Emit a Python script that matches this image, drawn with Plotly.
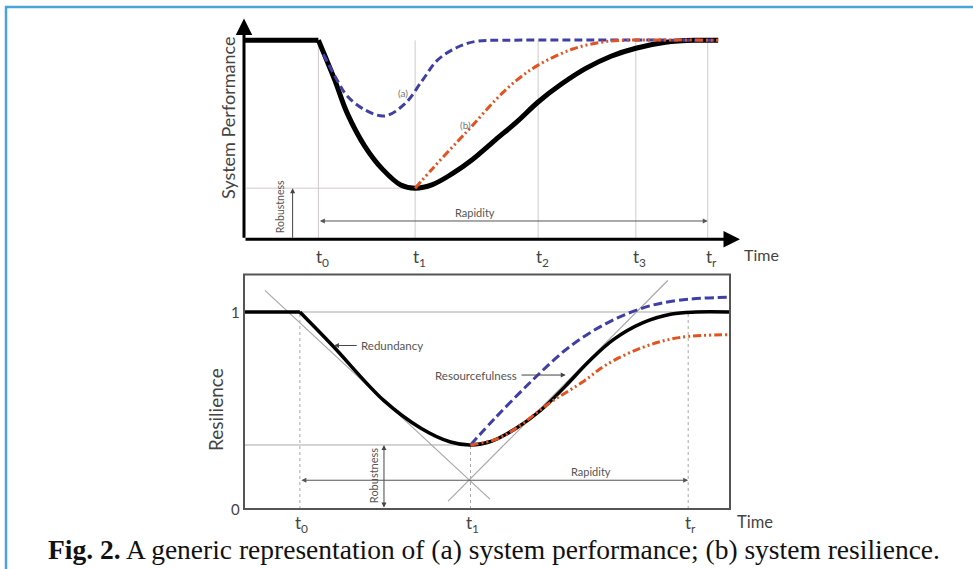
import plotly.graph_objects as go

# ---------------- data: top panel (system performance) ----------------
top_t = [1.5, 3.45, 5.93, 7.9, 9.35]
top_t_labels = ["t<sub>0</sub>", "t<sub>1</sub>", "t<sub>2</sub>", "t<sub>3</sub>", "t<sub>r</sub>"]
perf_black_x = [0, 1.5, 1.83, 2.08, 2.44, 2.8, 3.16, 3.45, 3.8, 4.2, 4.6, 5.07, 5.5, 5.93, 6.4, 6.9, 7.4, 7.9, 8.5, 9.1, 9.56]
perf_black_y = [1, 1, 0.8, 0.634, 0.466, 0.35, 0.273, 0.257, 0.275, 0.33, 0.4, 0.5, 0.59, 0.69, 0.78, 0.86, 0.92, 0.96, 0.99, 1.0, 1.0]
perf_blue_x = [1.6, 1.9, 2.08, 2.44, 2.84, 3.24, 3.6, 3.9, 4.3, 4.68, 5.2, 9.56]
perf_blue_y = [0.93, 0.79, 0.72, 0.65, 0.62, 0.68, 0.8, 0.9, 0.965, 0.995, 1.0, 1.0]
perf_red_x = [3.45, 3.8, 4.3, 4.6, 5.07, 5.5, 5.93, 6.61, 7.2, 7.7, 9.56]
perf_red_y = [0.257, 0.355, 0.49, 0.57, 0.70, 0.80, 0.875, 0.955, 0.99, 1.0, 1.0]
perf_min = 0.257
perf_rapidity_y = 0.092
perf_robust_x = 0.98

# ---------------- data: bottom panel (resilience) ----------------
bot_t = [1.15, 4.66, 9.14]
bot_t_labels = ["t<sub>0</sub>", "t<sub>1</sub>", "t<sub>r</sub>"]
res_black_x = [0, 1.15, 1.82, 2.88, 3.64, 4.25, 4.66, 5.1, 5.6, 6.1, 6.6, 7.1, 7.6, 8.2, 8.8, 9.3, 10]
res_black_y = [1, 1, 0.83, 0.55, 0.41, 0.34, 0.325, 0.345, 0.41, 0.5, 0.62, 0.75, 0.86, 0.945, 0.99, 1.0, 1.0]
res_blue_x = [4.66, 5.16, 5.92, 6.68, 7.44, 8.2, 8.95, 10]
res_blue_y = [0.325, 0.46, 0.65, 0.82, 0.94, 1.02, 1.06, 1.075]
res_red_x = [4.66, 5.2, 5.6, 6.3, 7.0, 7.44, 8.2, 8.95, 10]
res_red_y = [0.325, 0.355, 0.41, 0.54, 0.65, 0.73, 0.82, 0.87, 0.885]
tan1_x = [0.43, 5.06]
tan1_y = [1.11, 0.05]
tan2_x = [4.2, 8.72]
tan2_y = [0.04, 1.16]
res_min = 0.325
res_rapidity_y = 0.146
res_robust_x = 2.88
res_box_top = 1.19

W, H = 973, 569
BLUE = "#3f3fa6"
RED = "#e4521f"
GRAY = "#a8a8a8"
TXT = "#555555"
FONT = "Lato, 'Open Sans', sans-serif"

# pixel mapping used only for layout (domains)
tx0, tsx = 244, 49.6   # top: px = tx0 + tsx*x
ty0, tsy = 239.3, 199  # top: py = ty0 - tsy*y
bx0, bsx = 244, 48.6
by0, bsy = 509, 197

t_xr = [-0.6, 10.7]; t_yr = [-0.12, 1.13]
b_xr = [-0.6, 10.7]; b_yr = [-0.12, 1.2]

def xdom(x0, sx, r):
    return [(x0 + sx * r[0]) / W, (x0 + sx * r[1]) / W]

def ydom(y0, sy, r):
    return [1 - (y0 - sy * r[0]) / H, 1 - (y0 - sy * r[1]) / H]

fig = go.Figure()

# ---- top curves ----
fig.add_trace(go.Scatter(x=perf_black_x[:2], y=perf_black_y[:2], mode="lines",
                         line=dict(color="black", width=5), xaxis="x", yaxis="y"))
fig.add_trace(go.Scatter(x=perf_black_x[1:], y=perf_black_y[1:], mode="lines",
                         line=dict(color="black", width=5, shape="spline"), xaxis="x", yaxis="y"))
fig.add_trace(go.Scatter(x=perf_blue_x, y=perf_blue_y, mode="lines",
                         line=dict(color=BLUE, width=3, dash="8px,4px", shape="spline"), xaxis="x", yaxis="y"))
fig.add_trace(go.Scatter(x=perf_red_x, y=perf_red_y, mode="lines",
                         line=dict(color=RED, width=3, dash="8px,3px,2px,3px,2px,3px", shape="spline"), xaxis="x", yaxis="y"))

# ---- bottom curves ----
fig.add_trace(go.Scatter(x=tan1_x, y=tan1_y, mode="lines", line=dict(color=GRAY, width=1.2), xaxis="x2", yaxis="y2"))
fig.add_trace(go.Scatter(x=tan2_x, y=tan2_y, mode="lines", line=dict(color=GRAY, width=1.2), xaxis="x2", yaxis="y2"))
fig.add_trace(go.Scatter(x=res_black_x[:2], y=res_black_y[:2], mode="lines",
                         line=dict(color="black", width=3.5), xaxis="x2", yaxis="y2"))
fig.add_trace(go.Scatter(x=res_black_x[1:], y=res_black_y[1:], mode="lines",
                         line=dict(color="black", width=3.5, shape="spline"), xaxis="x2", yaxis="y2"))
fig.add_trace(go.Scatter(x=res_blue_x, y=res_blue_y, mode="lines",
                         line=dict(color=BLUE, width=3, dash="9px,4px", shape="spline"), xaxis="x2", yaxis="y2"))
fig.add_trace(go.Scatter(x=res_red_x, y=res_red_y, mode="lines",
                         line=dict(color=RED, width=3, dash="8px,3px,2px,3px,2px,3px", shape="spline"), xaxis="x2", yaxis="y2"))

shapes = []
# top reference lines
for t in top_t:
    shapes.append(dict(type="line", xref="x", yref="y", x0=t, x1=t, y0=0, y1=1,
                       line=dict(color="#d2c9c9", width=1), layer="below"))
shapes.append(dict(type="line", xref="x", yref="y", x0=0.05, x1=top_t[1], y0=perf_min, y1=perf_min,
                   line=dict(color="#d2c9c9", width=1), layer="below"))
# bottom box and reference lines
shapes.append(dict(type="rect", xref="x2", yref="y2", x0=0, x1=10, y0=0, y1=res_box_top,
                   line=dict(color="#555555", width=2)))
shapes.append(dict(type="line", xref="x2", yref="y2", x0=0, x1=10, y0=1, y1=1,
                   line=dict(color=GRAY, width=1), layer="below"))
shapes.append(dict(type="line", xref="x2", yref="y2", x0=0, x1=bot_t[1], y0=res_min, y1=res_min,
                   line=dict(color=GRAY, width=1), layer="below"))
shapes.append(dict(type="line", xref="x2", yref="y2", x0=bot_t[0], x1=bot_t[0], y0=0, y1=1,
                   line=dict(color=GRAY, width=1, dash="dot"), layer="below"))
shapes.append(dict(type="line", xref="x2", yref="y2", x0=bot_t[1], x1=bot_t[1], y0=0, y1=res_min,
                   line=dict(color=GRAY, width=1, dash="dot"), layer="below"))
shapes.append(dict(type="line", xref="x2", yref="y2", x0=bot_t[2], x1=bot_t[2], y0=0, y1=1,
                   line=dict(color=GRAY, width=1, dash="dot"), layer="below"))
# light blue frame
shapes.append(dict(type="rect", xref="paper", yref="paper", x0=6 / W, x1=1.05, y0=-0.05, y1=1 - 7 / H,
                   line=dict(color="#4ba3d9", width=2.5)))

ann = []
def arrow(xref, yref, x, y, ax, ay, width=1, color="#555", size=1, head=2, side="end"):
    ann.append(dict(xref=xref, yref=yref, axref=xref, ayref=yref, x=x, y=y, ax=ax, ay=ay,
                    text="", showarrow=True, arrowhead=head, arrowsize=size, arrowwidth=width,
                    arrowcolor=color, arrowside=side, startarrowhead=head, startarrowsize=size))

def text(xref, yref, x, y, s, size=10, color=TXT, angle=0, family=FONT, xanchor="center", yanchor="middle", **kw):
    d = dict(xref=xref, yref=yref, x=x, y=y, text=s, showarrow=False, textangle=angle,
             xanchor=xanchor, yanchor=yanchor,
             font=dict(family=family, size=size, color=color))
    d.update(kw)
    ann.append(d)

# top axes with arrows
arrow("x", "y", 0, 1.11, 0, 0, width=3, color="black", size=1.1, head=2)
arrow("x", "y", 10, 0, 0, 0, width=3, color="black", size=1.1, head=2)
# top robustness & rapidity
arrow("x", "y", perf_robust_x, perf_min, perf_robust_x, 0, width=1, color="#444", size=1, head=2)
arrow("x", "y", top_t[4], perf_rapidity_y, top_t[0], perf_rapidity_y, width=1, color="#555", size=1, head=2, side="end+start")
text("x", "y", 4.66, 0.135, "Rapidity", size=11)
text("x", "y", 0.74, 0.165, "Robustness", size=10.5, angle=-90)
text("x", "y", 3.2, 0.735, "(a)", size=10, color="#777")
text("x", "y", 4.46, 0.575, "(b)", size=10, color="#777")
for t, lab in zip(top_t, top_t_labels):
    text("x", "y", t, 0, lab, size=17, color="#444", xshift=4, yshift=-19)
text("x", "y", 10.0, 0, "Time", size=16, color="#444", yshift=-15, xshift=2, xanchor="left")
text("paper", "paper", 228 / W, 1 - 118 / H, "System Performance", size=18, color="#444", angle=-90)

# bottom annotations
arrow("x2", "y2", res_robust_x, res_min, res_robust_x, 0, width=1, color="#444", size=1, head=2, side="end+start")
arrow("x2", "y2", bot_t[2], res_rapidity_y, bot_t[0], res_rapidity_y, width=1, color="#555", size=1, head=2, side="end+start")
text("x2", "y2", 7.15, 0.19, "Rapidity", size=11)
text("x2", "y2", 2.68, 0.168, "Robustness", size=11, angle=-90)
arrow("x2", "y2", 1.85, 0.83, 2.35, 0.83, width=1, color="#444", size=1, head=2)
text("x2", "y2", 2.37, 0.83, "Redundancy", size=11.5, xanchor="left")
arrow("x2", "y2", 6.62, 0.68, 5.68, 0.68, width=1, color="#444", size=1, head=2)
text("x2", "y2", 5.66, 0.68, "Resourcefulness", size=11.5, xanchor="right")
for t, lab in zip(bot_t, bot_t_labels):
    text("x2", "y2", t, 0, lab, size=17, color="#444", xshift=2, yshift=-15)
text("x2", "y2", 10.1, 0, "Time", size=16.5, color="#444", yshift=-13, xanchor="left")
text("x2", "y2", 0, 1, "1", size=15, color="#444", xshift=-9)
text("x2", "y2", 0, 0, "0", size=15, color="#444", xshift=-9)
text("paper", "paper", 215 / W, 1 - 410 / H, "Resilience", size=19, color="#444", angle=-90)

# caption
text("paper", "paper", 494 / W, 1 - 549 / H,
     "<b>Fig. 2.</b> A generic representation of (a) system performance; (b) system resilience.",
     size=27.5, color="#111", family="'Liberation Serif', serif")

ax_common = dict(visible=False, showgrid=False, zeroline=False, fixedrange=True)
fig.update_layout(
    width=W, height=H, margin=dict(l=0, r=0, t=0, b=0),
    paper_bgcolor="white", plot_bgcolor="rgba(0,0,0,0)", showlegend=False,
    xaxis=dict(domain=xdom(tx0, tsx, t_xr), range=t_xr, anchor="y", **ax_common),
    yaxis=dict(domain=ydom(ty0, tsy, t_yr), range=t_yr, anchor="x", **ax_common),
    xaxis2=dict(domain=xdom(bx0, bsx, b_xr), range=b_xr, anchor="y2", **ax_common),
    yaxis2=dict(domain=ydom(by0, bsy, b_yr), range=b_yr, anchor="x2", **ax_common),
    shapes=shapes, annotations=ann,
)

fig.write_html("out.html", config={"displayModeBar": False},
               post_script="document.body.style.margin='0';")
